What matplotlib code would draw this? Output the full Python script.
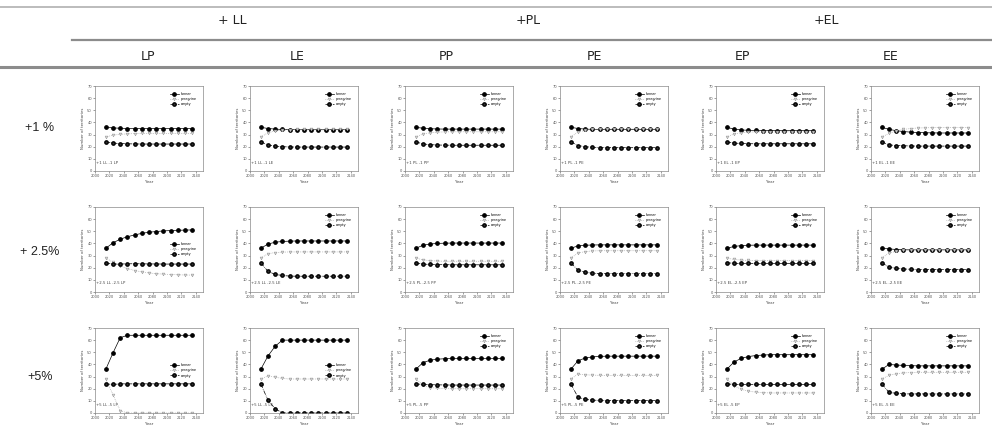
import matplotlib
matplotlib.use("Agg")
import matplotlib.pyplot as plt
from matplotlib.lines import Line2D

# simulation years (one point per decade)
years = [2015, 2025, 2035, 2045, 2055, 2065, 2075, 2085, 2095, 2105, 2115, 2125, 2135]

groups = ["+ LL", "+PL", "+EL"]
columns = ["LP", "LE", "PP", "PE", "EP", "EE"]
sources = ["LL", "LL", "PL", "PL", "EL", "EL"]
rates = ["+1 %", "+ 2.5%", "+5%"]
steps = ["1", "2.5", "5"]
series_names = ["lanner", "peregrine", "empty"]

# ---- +1 % ----
lanner_1 = [
    [36, 35.5, 35.2, 35.0, 35.0, 34.9, 34.9, 34.9, 34.9, 34.9, 34.9, 34.9, 34.9],
    [36, 35.0, 34.5, 34.2, 34.1, 34.0, 34.0, 34.0, 34.0, 34.0, 34.0, 34.0, 34.0],
    [36, 35.2, 34.8, 34.6, 34.5, 34.5, 34.5, 34.5, 34.5, 34.5, 34.5, 34.5, 34.5],
    [36, 35.0, 34.5, 34.3, 34.2, 34.2, 34.2, 34.2, 34.2, 34.2, 34.2, 34.2, 34.2],
    [36, 34.5, 33.8, 33.5, 33.4, 33.3, 33.3, 33.3, 33.3, 33.3, 33.3, 33.3, 33.3],
    [36, 34.3, 33.2, 32.5, 32.0, 31.7, 31.5, 31.4, 31.3, 31.3, 31.3, 31.3, 31.3],
]
peregrine_1 = [
    [28, 29.5, 30.2, 30.6, 30.8, 30.9, 31.0, 31.0, 31.0, 31.0, 31.0, 31.0, 31.0],
    [28, 31.5, 33.0, 33.7, 34.0, 34.2, 34.3, 34.3, 34.3, 34.3, 34.3, 34.3, 34.3],
    [28, 30.5, 31.5, 32.0, 32.2, 32.3, 32.3, 32.3, 32.3, 32.3, 32.3, 32.3, 32.3],
    [28, 32.0, 33.5, 34.2, 34.5, 34.6, 34.6, 34.6, 34.6, 34.6, 34.6, 34.6, 34.6],
    [28, 30.5, 31.5, 32.0, 32.2, 32.3, 32.3, 32.3, 32.3, 32.3, 32.3, 32.3, 32.3],
    [28, 31.0, 33.0, 34.2, 35.0, 35.4, 35.6, 35.7, 35.8, 35.8, 35.8, 35.8, 35.8],
]
empty_1 = [
    [24, 23.0, 22.6, 22.4, 22.3, 22.2, 22.2, 22.2, 22.2, 22.2, 22.2, 22.2, 22.2],
    [24, 21.5, 20.5, 20.0, 19.8, 19.7, 19.7, 19.7, 19.7, 19.7, 19.7, 19.7, 19.7],
    [24, 22.3, 21.7, 21.4, 21.3, 21.2, 21.2, 21.2, 21.2, 21.2, 21.2, 21.2, 21.2],
    [24, 21.0, 20.0, 19.5, 19.3, 19.2, 19.2, 19.2, 19.2, 19.2, 19.2, 19.2, 19.2],
    [24, 23.0, 22.7, 22.5, 22.4, 22.4, 22.4, 22.4, 22.4, 22.4, 22.4, 22.4, 22.4],
    [24, 21.5, 21.0, 20.8, 20.6, 20.5, 20.5, 20.5, 20.5, 20.5, 20.5, 20.5, 20.5],
]

# ---- +2.5 % ----
lanner_2 = [
    [36, 40.5, 43.5, 45.5, 47.0, 48.3, 49.2, 49.8, 50.3, 50.6, 50.8, 51.0, 51.1],
    [36, 39.5, 41.0, 41.6, 41.9, 42.0, 42.0, 42.0, 42.0, 42.0, 42.0, 42.0, 42.0],
    [36, 38.5, 39.5, 40.0, 40.2, 40.3, 40.3, 40.3, 40.3, 40.3, 40.3, 40.3, 40.3],
    [36, 38.0, 38.5, 38.7, 38.8, 38.8, 38.8, 38.8, 38.8, 38.8, 38.8, 38.8, 38.8],
    [36, 37.5, 38.2, 38.5, 38.6, 38.6, 38.6, 38.6, 38.6, 38.6, 38.6, 38.6, 38.6],
    [36, 35.5, 35.0, 34.8, 34.7, 34.7, 34.7, 34.7, 34.7, 34.7, 34.7, 34.7, 34.7],
]
peregrine_2 = [
    [28, 24.5, 21.5, 19.3, 17.7, 16.5, 15.7, 15.1, 14.7, 14.4, 14.2, 14.0, 13.9],
    [28, 31.5, 32.5, 32.8, 33.0, 33.0, 33.0, 33.0, 33.0, 33.0, 33.0, 33.0, 33.0],
    [28, 26.5, 25.8, 25.5, 25.3, 25.3, 25.3, 25.3, 25.3, 25.3, 25.3, 25.3, 25.3],
    [28, 32.0, 33.3, 33.8, 34.0, 34.0, 34.0, 34.0, 34.0, 34.0, 34.0, 34.0, 34.0],
    [28, 26.8, 26.3, 26.0, 25.9, 25.9, 25.9, 25.9, 25.9, 25.9, 25.9, 25.9, 25.9],
    [28, 32.0, 33.5, 34.3, 34.7, 34.9, 34.9, 34.9, 34.9, 34.9, 34.9, 34.9, 34.9],
]
empty_2 = [
    [24, 23.0, 23.0, 23.2, 23.3, 23.2, 23.1, 23.1, 23.0, 23.0, 23.0, 23.0, 23.0],
    [24, 17.0, 14.5, 13.6, 13.1, 13.0, 13.0, 13.0, 13.0, 13.0, 13.0, 13.0, 13.0],
    [24, 23.0, 22.7, 22.5, 22.5, 22.4, 22.4, 22.4, 22.4, 22.4, 22.4, 22.4, 22.4],
    [24, 18.0, 16.2, 15.5, 15.2, 15.2, 15.2, 15.2, 15.2, 15.2, 15.2, 15.2, 15.2],
    [24, 23.7, 23.5, 23.5, 23.5, 23.5, 23.5, 23.5, 23.5, 23.5, 23.5, 23.5, 23.5],
    [24, 20.5, 19.5, 19.0, 18.7, 18.5, 18.5, 18.5, 18.5, 18.5, 18.5, 18.5, 18.5],
]

# ---- +5 % ----
lanner_3 = [
    [36, 49.5, 62.0, 64.0, 64.0, 64.0, 64.0, 64.0, 64.0, 64.0, 64.0, 64.0, 64.0],
    [36, 47.0, 55.0, 60.0, 60.0, 60.0, 60.0, 60.0, 60.0, 60.0, 60.0, 60.0, 60.0],
    [36, 41.5, 43.5, 44.3, 44.7, 44.9, 45.0, 45.0, 45.0, 45.0, 45.0, 45.0, 45.0],
    [36, 43.0, 45.3, 46.2, 46.6, 46.8, 46.8, 46.8, 46.8, 46.8, 46.8, 46.8, 46.8],
    [36, 42.0, 45.0, 46.5, 47.3, 47.7, 48.0, 48.0, 48.0, 48.0, 48.0, 48.0, 48.0],
    [36, 40.0, 39.5, 39.2, 39.0, 38.8, 38.8, 38.8, 38.8, 38.8, 38.8, 38.8, 38.8],
]
peregrine_3 = [
    [28, 15.0, 2.0, 0.0, 0.0, 0.0, 0.0, 0.0, 0.0, 0.0, 0.0, 0.0, 0.0],
    [28, 30.5, 29.5, 28.5, 28.0, 28.0, 28.0, 28.0, 28.0, 28.0, 28.0, 28.0, 28.0],
    [28, 23.0, 21.0, 20.4, 20.2, 20.0, 20.0, 20.0, 20.0, 20.0, 20.0, 20.0, 20.0],
    [28, 32.0, 31.5, 31.2, 31.0, 31.0, 31.0, 31.0, 31.0, 31.0, 31.0, 31.0, 31.0],
    [28, 22.5, 19.5, 18.0, 17.2, 16.8, 16.5, 16.5, 16.5, 16.5, 16.5, 16.5, 16.5],
    [28, 31.0, 32.3, 33.0, 33.3, 33.5, 33.5, 33.5, 33.5, 33.5, 33.5, 33.5, 33.5],
]
empty_3 = [
    [24, 23.5, 24.0, 24.0, 24.0, 24.0, 24.0, 24.0, 24.0, 24.0, 24.0, 24.0, 24.0],
    [24, 10.5, 3.5, 0.0, 0.0, 0.0, 0.0, 0.0, 0.0, 0.0, 0.0, 0.0, 0.0],
    [24, 23.5, 23.3, 23.2, 23.1, 23.0, 23.0, 23.0, 23.0, 23.0, 23.0, 23.0, 23.0],
    [24, 13.0, 11.2, 10.6, 10.4, 10.2, 10.2, 10.2, 10.2, 10.2, 10.2, 10.2, 10.2],
    [24, 23.5, 23.5, 23.5, 23.5, 23.5, 23.5, 23.5, 23.5, 23.5, 23.5, 23.5, 23.5],
    [24, 17.0, 16.2, 15.8, 15.7, 15.7, 15.7, 15.7, 15.7, 15.7, 15.7, 15.7, 15.7],
]

lanner_rows = [lanner_1, lanner_2, lanner_3]
peregrine_rows = [peregrine_1, peregrine_2, peregrine_3]
empty_rows = [empty_1, empty_2, empty_3]

# legend placement per row (mostly top right)
legend_locs = [
    ["upper right"] * 6,
    ["center right", "upper right", "upper right", "upper right", "upper right", "upper right"],
    ["center right", "center right", "upper right", "upper right", "upper right", "upper right"],
]

W, H = 992, 430
fig = plt.figure(figsize=(W / 100, H / 100), dpi=100)
head_font = ["Liberation Sans Narrow", "DejaVu Sans"]


def fx(px):
    return px / W


def fy(py):
    return 1 - py / H


def hline(y, x0, x1, lw, color):
    fig.add_artist(Line2D([fx(x0), fx(x1)], [fy(y), fy(y)], lw=lw, color=color,
                          transform=fig.transFigure))


# table rules and headers
hline(7, 0, W, 1.2, "#b0b0b0")
hline(40, 72, W, 1.6, "#8c8c8c")
hline(67, 0, W, 2.2, "#8c8c8c")

group_x = [232, 528, 826]
for g, x in zip(groups, group_x):
    fig.text(fx(x), fy(20), g, ha="center", va="center", fontsize=9,
             family=head_font, color="#222222")
col_x = [148, 297, 446, 594, 742, 891]
for c, x in zip(columns, col_x):
    fig.text(fx(x), fy(57), c, ha="center", va="center", fontsize=9,
             family=head_font, color="#222222")

row_top = [86, 207, 328]
row_label_y = [128, 252, 377]
for r, y in zip(rates, row_label_y):
    fig.text(fx(40), fy(y), r, ha="center", va="center", fontsize=9,
             family=["Liberation Sans", "DejaVu Sans"], color="#222222")

panel_left = [95, 250, 405, 560, 716, 871]
panel_w, panel_h = 108, 85

for i in range(3):
    for j in range(6):
        ax = fig.add_axes([fx(panel_left[j]), fy(row_top[i] + panel_h),
                           fx(panel_w), panel_h / H])
        ax.plot(years, lanner_rows[i][j], color="black", lw=0.5, ls="-",
                marker="o", ms=2.4, mfc="black", mec="black", label=series_names[0])
        ax.plot(years, peregrine_rows[i][j], color="#9a9a9a", lw=0.5, ls=":",
                marker="v", ms=2.0, mfc="#d8d8d8", mec="#9a9a9a", mew=0.4,
                label=series_names[1])
        ax.plot(years, empty_rows[i][j], color="black", lw=0.5, ls="-.",
                marker="o", ms=2.4, mfc="#303030", mec="black", label=series_names[2])
        ax.set_xlim(2000, 2150)
        ax.set_ylim(0, 70)
        ax.set_xticks([2000, 2020, 2040, 2060, 2080, 2100, 2120, 2140])
        ax.set_yticks([0, 10, 20, 30, 40, 50, 60, 70])
        ax.tick_params(labelsize=2.6, length=1.2, width=0.4, pad=1, colors="#555555")
        for s in ax.spines.values():
            s.set_linewidth(0.5)
            s.set_color("#888888")
        ax.set_xlabel("Year", fontsize=2.8, labelpad=1.5, color="#444444")
        ax.set_ylabel("Number of territories", fontsize=2.8, labelpad=1.5, color="#444444")
        ax.text(2001, 7, "+%s %s -%s %s" % (steps[i], sources[j], steps[i], columns[j]),
                fontsize=2.8, color="#444444", va="center")
        ax.legend(loc=legend_locs[i][j], fontsize=2.4, frameon=False, handlelength=2.5,
                  borderaxespad=1.5, labelspacing=0.3, handletextpad=0.6)

fig.savefig("out.png", dpi=100)
